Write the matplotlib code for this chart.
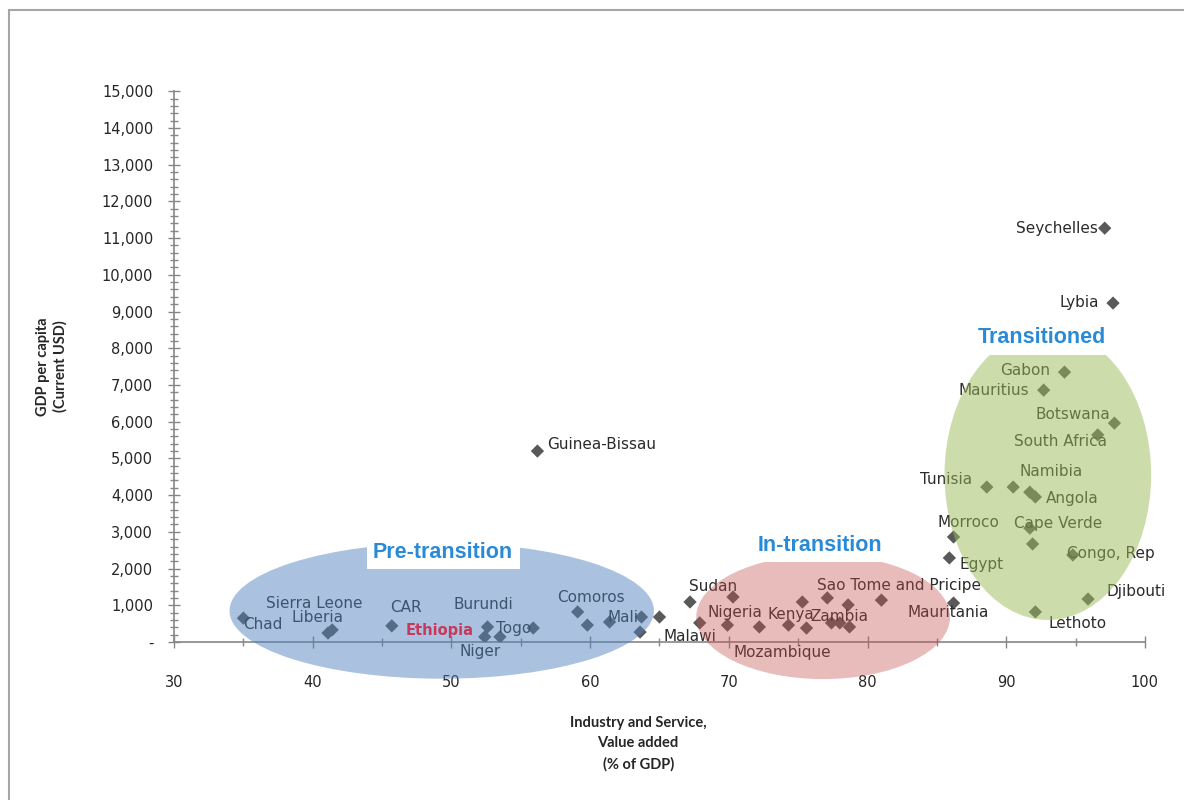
import matplotlib.pyplot as plt
from matplotlib.patches import Ellipse, Rectangle
from matplotlib.ticker import MultipleLocator, FuncFormatter

plt.rcParams['font.family'] = ['DejaVu Sans']

# Industry and service value added (% of GDP) vs GDP per capita (current USD)
countries = ['Chad', 'Sierra Leone', 'Liberia', 'CAR', 'Burundi', 'Ethiopia',
             'Niger', 'Togo', 'Comoros', 'Mali', 'Guinea-Bissau', 'Sudan',
             'Malawi', 'Nigeria', 'Kenya', 'Mozambique', 'Zambia',
             'Sao Tome and Pricipe', 'Mauritania', 'Morroco', 'Egypt',
             'Tunisia', 'Namibia', 'Angola', 'Cape Verde', 'Gabon',
             'Mauritius', 'Botswana', 'South Africa', 'Congo, Rep',
             'Djibouti', 'Lethoto', 'Seychelles', 'Lybia',
             '', '', '', '', '', '', '', '', '', '', '', '', '']
industry_share = [35.0, 41.1, 41.4, 45.7, 52.6, 52.4,
                  53.5, 55.9, 59.1, 61.4, 56.2, 67.2,
                  67.9, 69.9, 74.3, 75.6, 77.4,
                  81.0, 86.2, 86.2, 85.9,
                  88.6, 90.5, 92.1, 91.7, 94.2,
                  92.7, 97.8, 96.6, 94.8,
                  95.9, 92.1, 97.1, 97.7,
                  59.8, 63.7, 63.6, 65.0, 70.3, 72.2, 75.3, 77.1, 78.0,
                  78.6, 78.7, 91.9, 91.7]
gdp_per_capita = [650, 245, 330, 440, 410, 140,
                  140, 380, 820, 545, 5200, 1090,
                  520, 460, 460, 380, 520,
                  1140, 1060, 2860, 2290,
                  4220, 4220, 3950, 3100, 7350,
                  6860, 5960, 5640, 2370,
                  1170, 820, 11270, 9230,
                  460, 680, 270, 680, 1225, 410, 1090, 1200, 520,
                  1010, 410, 2670, 4080]

# label placement in pixels relative to the marker
label_offsets = {
    'Chad': (19, -6), 'Sierra Leone': (-14, 30), 'Liberia': (-15, 12),
    'CAR': (14, 18), 'Burundi': (-4, 22), 'Ethiopia': (-45, 6),
    'Niger': (-20, -15), 'Togo': (-20, 0), 'Comoros': (13, 14),
    'Mali': (13, 4), 'Sudan': (23, 15), 'Malawi': (-10, -14),
    'Nigeria': (7, 13), 'Kenya': (2, 11), 'Mozambique': (-24, -24),
    'Zambia': (8, 6), 'Sao Tome and Pricipe': (18, 15),
    'Mauritania': (-5, -9), 'Morroco': (15, 14), 'Egypt': (32, -7),
    'Tunisia': (-41, 8), 'Namibia': (38, 16), 'Angola': (37, -2),
    'Cape Verde': (28, 5), 'Gabon': (-39, 2), 'Mauritius': (-50, 0),
    'Botswana': (-42, 9), 'South Africa': (-37, -7), 'Congo, Rep': (38, 1),
    'Djibouti': (48, 8), 'Lethoto': (42, -12), 'Seychelles': (-48, 0),
    'Lybia': (-34, 1), 'Guinea-Bissau': (10, 7),
}

# stage groups: name, centre (x, y), width, height, fill colour, alpha
groups = [
    ('Pre-transition', (49.3, 850), 30.6, 3700, '#4f81bd', 0.48),
    ('In-transition', (76.8, 680), 18.3, 3380, '#c0504d', 0.38),
    ('Transitioned', (93.0, 4550), 14.9, 7900, '#9bbb59', 0.5),
]
group_titles = [('Pre-transition', 49.4, 2450), ('In-transition', 76.6, 2640),
                ('Transitioned', 92.6, 8280)]

fig = plt.figure(figsize=(11.84, 8), dpi=100)
fig.patches.append(Rectangle((0.0078, -0.01), 1.2, 0.997, transform=fig.transFigure,
                             fill=False, edgecolor='#a6a6a6', lw=1.5))
ax = fig.add_axes([0.147, 0.1975, 0.820, 0.6885])

ax.scatter(industry_share, gdp_per_capita, marker='D', s=46, color='#595959',
           edgecolors='none', zorder=2)
for name, x, y in zip(countries, industry_share, gdp_per_capita):
    if not name:
        continue
    dx, dy = label_offsets[name]
    ha = 'left' if name == 'Guinea-Bissau' else 'center'
    if name == 'Ethiopia':
        ax.annotate(name, (x, y), xytext=(dx, dy), textcoords='offset pixels',
                    ha=ha, va='center', fontsize=10.5, color='#c8385a',
                    fontweight='bold', zorder=5)
    else:
        ax.annotate(name, (x, y), xytext=(dx, dy), textcoords='offset pixels',
                    ha=ha, va='center', fontsize=11, color='#2b2b2b', zorder=3)

# translucent regions go over the points
for name, centre, w, h, col, a in groups:
    ax.add_patch(Ellipse(centre, w, h, facecolor=col, edgecolor='none',
                         alpha=a, zorder=4, clip_on=False))
for title, x, y in group_titles:
    ax.text(x, y, title, ha='center', va='center', fontsize=15.5,
            fontweight='bold', color='#2a8ad6', zorder=6,
            family='Liberation Sans',
            bbox=dict(boxstyle='square,pad=0.3', fc='white', ec='none'))

ax.set_xlim(30, 100)
ax.set_ylim(0, 15000)
ax.xaxis.set_major_locator(MultipleLocator(10))
ax.xaxis.set_minor_locator(MultipleLocator(5))
ax.yaxis.set_major_locator(MultipleLocator(1000))
ax.yaxis.set_minor_locator(MultipleLocator(200))
ax.yaxis.set_major_formatter(
    FuncFormatter(lambda v, p: '-' if v == 0 else f'{v:,.0f}'))

for side in ('top', 'right'):
    ax.spines[side].set_visible(False)
for side in ('left', 'bottom'):
    ax.spines[side].set_color('#868686')
    ax.spines[side].set_linewidth(1.2)
    ax.spines[side].set_zorder(1)
ax.set_facecolor('none')
ax.tick_params(which='both', direction='inout', color='#868686', width=1)
ax.tick_params(which='major', length=8, labelsize=10.5, labelcolor='#262626')
ax.tick_params(which='minor', length=6)
ax.tick_params(axis='x', which='major', pad=20)
ax.tick_params(axis='y', which='major', pad=11)

ax.set_ylabel('GDP per capita\n(Current USD)', fontsize=10.5, fontweight='bold',
              color='#262626', family='Lato')
ax.yaxis.set_label_coords(-0.11, 0.5)
ax.set_xlabel('Industry and Service,\nValue added\n(% of GDP)', fontsize=10.5,
              fontweight='bold', color='#262626', linespacing=1.55,
              family='Lato', va='top')
ax.xaxis.set_label_coords(0.478, -0.135)

fig.savefig('out.png', dpi=100)
